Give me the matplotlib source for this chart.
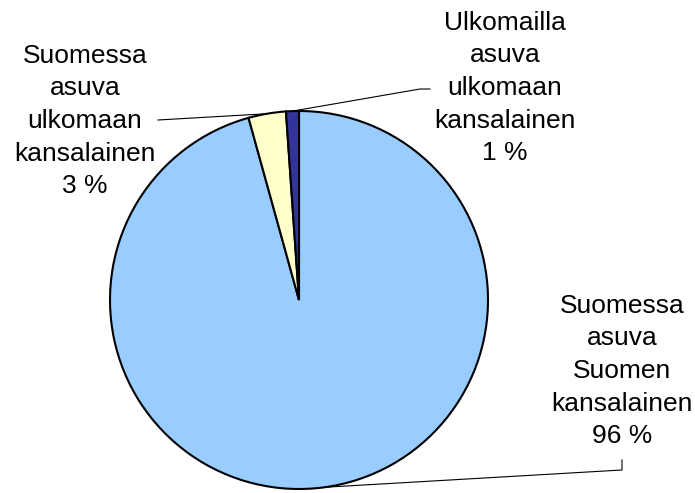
import numpy as np
import matplotlib
matplotlib.use("Agg")
import matplotlib.pyplot as plt

categories = ["Suomessa\nasuva\nSuomen\nkansalainen",
              "Suomessa\nasuva\nulkomaan\nkansalainen",
              "Ulkomailla\nasuva\nulkomaan\nkansalainen"]
values = [95.7, 3.2, 1.1]
shown_pct = [96, 3, 1]
colors = ["#99CCFF", "#FFFFCC", "#333399"]

plt.rcParams['font.family'] = ['Liberation Sans', 'DejaVu Sans']

W, H = 695, 493
fig = plt.figure(figsize=(W / 100, H / 100), dpi=100)
ax = fig.add_axes([0, 0, 1, 1])

cx, cy, R = 299, H - 300, 189
wedges, _ = ax.pie(values, colors=colors, startangle=90, counterclock=False,
                   radius=R, center=(cx, cy), frame=True,
                   wedgeprops=dict(edgecolor='black', linewidth=1.5))
ax.set_xlim(0, W)
ax.set_ylim(0, H)
ax.axis('off')

# label positions (text centers) and leader-line elbows, in pixel coordinates (y up)
text_pos = [(622, H - 371), (85, H - 121), (505, H - 88)]
elbows = [[(622, H - 460), (622, H - 470)],
          [(158, H - 120)],
          [(430, H - 89), (420, H - 89)]]

fs = 19
for w, cat, pct, tp, el in zip(wedges, categories, shown_pct, text_pos, elbows):
    ang = np.deg2rad((w.theta1 + w.theta2) / 2)
    px, py = cx + R * np.cos(ang), cy + R * np.sin(ang)
    pts = el + [(px, py)]
    ax.plot([p[0] for p in pts], [p[1] for p in pts], color='black', lw=0.8)
    ax.text(tp[0], tp[1], f"{cat}\n{pct} %", ha='center', va='center',
            fontsize=fs, linespacing=1.45, color='black')

fig.savefig("out.png", dpi=100)
